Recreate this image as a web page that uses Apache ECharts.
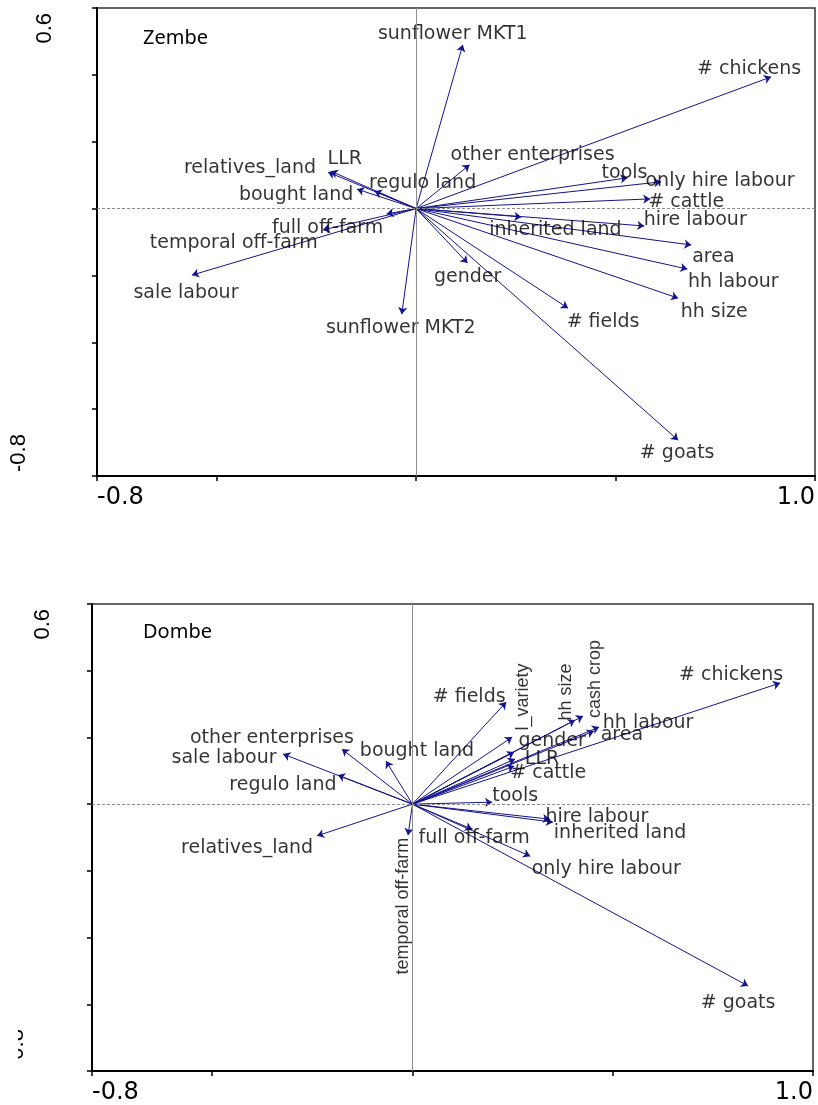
<!DOCTYPE html>
<html><head><meta charset="utf-8">
<script src="https://cdn.jsdelivr.net/npm/echarts@6/dist/echarts.min.js"></script>
<style>html,body{margin:0;padding:0;background:#fff}#c{width:818px;height:1105px}</style>
</head><body><div id="c"></div>
<script>
// ---------- data ----------
const panelNames = ['Zembe', 'Dombe'];
const xTicks = [-0.8, -0.5, 0, 0.5, 1.0];
const yTicks = [-0.8, -0.6, -0.4, -0.2, 0, 0.2, 0.4, 0.6];
const xTickLabels = [-0.8, 1.0];
const yTickLabels = [-0.8, 0.6];

const zembeVars = ['sunflower MKT1','# chickens','other enterprises','tools','only hire labour','# cattle','hire labour','inherited land','area','hh labour','hh size','gender','# fields','# goats','sunflower MKT2','sale labour','temporal off-farm','full off-farm','bought land','relatives_land','LLR','regulo land'];
const zembeX = [0.117, 0.890, 0.134, 0.530, 0.614, 0.587, 0.572, 0.264, 0.690, 0.680, 0.657, 0.129, 0.381, 0.657, -0.036, -0.562, -0.234, -0.074, -0.148, -0.221, -0.214, -0.104];
const zembeY = [0.490, 0.394, 0.131, 0.092, 0.080, 0.029, -0.052, -0.025, -0.109, -0.181, -0.268, -0.163, -0.298, -0.693, -0.316, -0.199, -0.064, -0.016, 0.058, 0.109, 0.112, 0.052];

const dombeVars = ['sale labour','regulo land','other enterprises','bought land','relatives_land','temporal off-farm','# fields','l_variety','hh size','cash crop','hh labour','area','gender','LLR','# cattle','# chickens','tools','hire labour','inherited land','full off-farm','only hire labour','# goats'];
const dombeX = [-0.323, -0.186, -0.176, -0.066, -0.238, -0.011, 0.234, 0.249, 0.406, 0.426, 0.466, 0.453, 0.254, 0.256, 0.254, 0.918, 0.199, 0.343, 0.351, 0.149, 0.294, 0.838];
const dombeY = [0.150, 0.087, 0.165, 0.129, -0.095, -0.093, 0.306, 0.201, 0.252, 0.264, 0.231, 0.219, 0.156, 0.135, 0.114, 0.363, 0.006, -0.045, -0.054, -0.075, -0.156, -0.545];

// ---------- layout (label offsets in screen px, styles) ----------
const zembeOffsets = [[-10,-11],[-22,-8],[63,-10],[-3,-5],[59,-1],[36,3],[51,-6],[34,13],[22,12],[46,13],[36,14],[0,14],[35,14],[-1,13],[-1,14],[-6,18],[-89,13],[-59,14],[-61,6],[-78,-4],[14,-12],[48,-8]];
const dombeOffsets = [[-59,4],[-55,10],[-70,-11],[31,-10],[-70,12],[-5,71],[-37,-5],[11,-40],[-9,-28],[12,-37],[49,-4],[28,4],[38,-11],[27,0],[34,7],[-49,-8],[23,-6],[47,-2],[67,11],[2,9],[76,13],[-10,17]];
const dombeRotated = ['temporal off-farm','l_variety','hh size','cash crop'];

const ARROW = '#14148c';
const grids = [
  {left: 97, top: 8, width: 719, height: 468, labelMargin: 41},
  {left: 92, top: 604, width: 721, height: 467, labelMargin: 38}
];
const fmt = v => (Math.round(v * 10) / 10).toFixed(1);

function xAxisFor(i) {
  return {
    type: 'value', gridIndex: i, min: -0.8, max: 1.0,
    axisLine: {show: true, onZero: false, lineStyle: {color: '#000', width: 2}},
    axisTick: {show: true, customValues: xTicks, length: 5, lineStyle: {color: '#000', width: 1.5}},
    axisLabel: {show: true, customValues: xTickLabels, formatter: fmt, margin: 10,
      fontFamily: 'DejaVu Sans', fontSize: 24, color: '#000',
      alignMinLabel: 'left', alignMaxLabel: 'right'},
    splitLine: {show: false}
  };
}
function yAxisFor(i) {
  return {
    type: 'value', gridIndex: i, min: -0.8, max: 0.6,
    axisLine: {show: true, onZero: false, lineStyle: {color: '#000', width: 2}},
    axisTick: {show: true, customValues: yTicks, length: 5, lineStyle: {color: '#000', width: 1.5}},
    axisLabel: {show: true, customValues: yTickLabels, rotate: 90, margin: grids[i].labelMargin,
      fontFamily: 'Liberation Sans', fontSize: 22, color: '#000',
      alignMinLabel: 'left', alignMaxLabel: 'right',
      formatter: v => (v < 0 ? '{lo|' : '{hi|') + fmt(v) + '}',
      rich: {
        lo: {fontFamily: 'Liberation Sans', fontSize: 22, color: '#000', padding: [0, 0, 26, 4]},
        hi: {fontFamily: 'Liberation Sans', fontSize: 22, color: '#000', padding: [0, 5, 0, 0]}
      }},
    splitLine: {show: false}
  };
}

function arrowSeries(i, names, xs, ys) {
  return {
    type: 'lines', coordinateSystem: 'cartesian2d', xAxisIndex: i, yAxisIndex: i,
    symbol: ['none', 'arrow'], symbolSize: 7, silent: true, z: 3,
    lineStyle: {color: ARROW, width: 1, opacity: 1, curveness: 0},
    data: names.map((n, k) => ({name: n, coords: [[0, 0], [xs[k], ys[k]]]}))
  };
}
function labelSeries(i, names, xs, ys, offsets, rotated) {
  return {
    type: 'scatter', xAxisIndex: i, yAxisIndex: i, symbolSize: 0, silent: true, z: 4,
    itemStyle: {color: 'transparent'},
    label: {show: true, position: 'inside', formatter: '{b}', color: '#000',
      fontFamily: 'DejaVu Sans', fontSize: 19},
    data: names.map((n, k) => {
      const rot = rotated.indexOf(n) >= 0;
      const o = offsets[k];
      const lab = {color: '#000', offset: o};
      // rotated labels: offset is applied in the rotated frame
      if (rot) { lab.rotate = 90; lab.offset = [-o[1], o[0]]; lab.fontFamily = 'Liberation Sans'; lab.fontSize = 18; }
      return {name: n, value: [xs[k], ys[k]], label: lab};
    })
  };
}
function zeroLines(i) {
  return {
    type: 'scatter', xAxisIndex: i, yAxisIndex: i, symbolSize: 0, silent: true, z: 1,
    data: [[0, 0]],
    markLine: {silent: true, symbol: 'none', label: {show: false}, animation: false,
      data: [
        {xAxis: 0, lineStyle: {color: '#8c8c8c', width: 1, type: 'solid'}},
        {yAxis: 0, lineStyle: {color: '#8c8c8c', width: 1, type: [3, 2]}}
      ]}
  };
}

const chart = echarts.init(document.getElementById('c'), null, {renderer: 'canvas'});
chart.setOption({
  backgroundColor: '#fff',
  animation: false,
  title: [
    {text: panelNames[0], left: 143, top: 28, padding: 0,
      textStyle: {fontFamily: 'Noto Sans', fontSize: 20, fontWeight: 'normal', color: '#000'}},
    {text: panelNames[1], left: 143, top: 622, padding: 0,
      textStyle: {fontFamily: 'Noto Sans', fontSize: 20, fontWeight: 'normal', color: '#000'}}
  ],
  grid: grids.map(g => ({left: g.left, top: g.top, width: g.width, height: g.height,
    show: true, borderColor: '#333', borderWidth: 1.5, backgroundColor: 'transparent', containLabel: false})),
  xAxis: [xAxisFor(0), xAxisFor(1)],
  yAxis: [yAxisFor(0), yAxisFor(1)],
  series: [
    zeroLines(0), zeroLines(1),
    arrowSeries(0, zembeVars, zembeX, zembeY),
    arrowSeries(1, dombeVars, dombeX, dombeY),
    labelSeries(0, zembeVars, zembeX, zembeY, zembeOffsets, []),
    labelSeries(1, dombeVars, dombeX, dombeY, dombeOffsets, dombeRotated)
  ],
  graphic: [
    {type: 'rect', z: 100, silent: true, shape: {x: 0, y: 1012, width: 18, height: 66}, style: {fill: '#fff'}},
    {type: 'rect', z: 100, silent: true, shape: {x: 24, y: 1012, width: 40, height: 66}, style: {fill: '#fff'}}
  ]
});
</script></body></html>
